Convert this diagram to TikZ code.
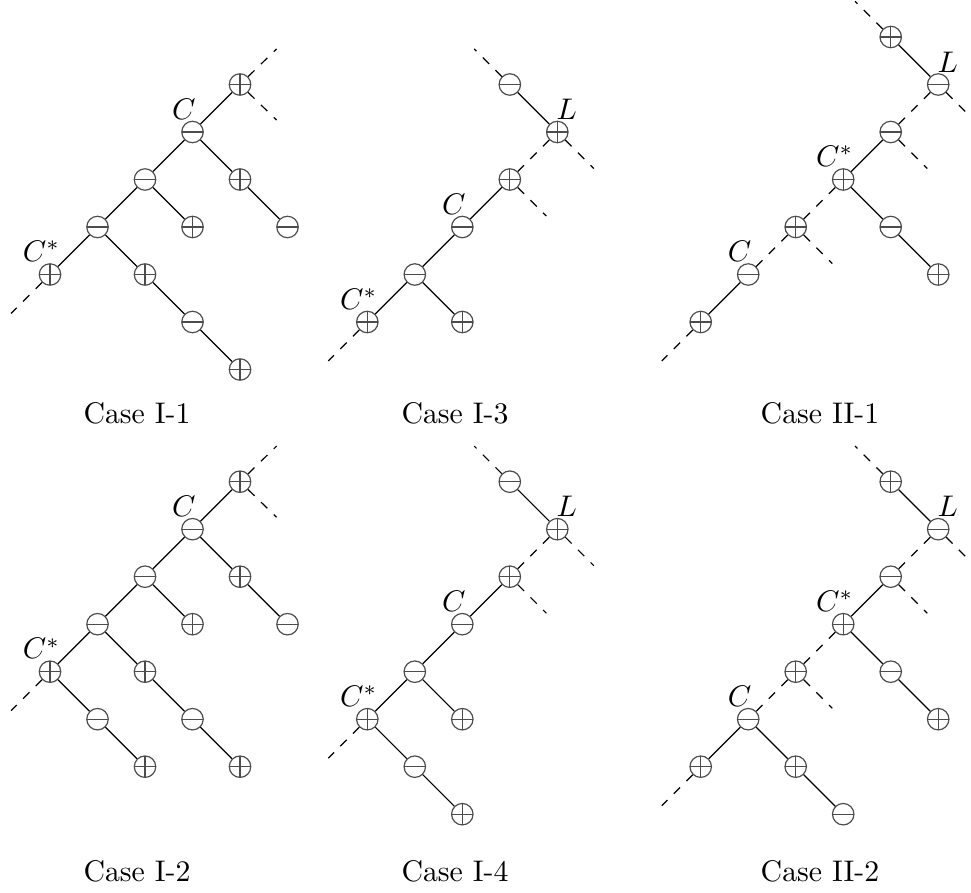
\documentclass[tikz,border=0pt]{standalone}
\usepackage{amsmath, amssymb}
\tikzset{
	x=0.56cm, y=0.56cm,
	plusv/.style ={circle, draw=black!70, minimum size=7.2pt, inner sep=0pt, node contents={},
		path picture={\draw[black!70] (path picture bounding box.north) -- (path picture bounding box.south)
			(path picture bounding box.west) -- (path picture bounding box.east);}},
	minusv/.style ={circle, draw=black!70, minimum size=7.2pt, inner sep=0pt, node contents={},
		path picture={\draw[black!70] (path picture bounding box.west) -- (path picture bounding box.east);}},
	stub/.style={dashed},
	tag/.style = {anchor=base, inner sep=0pt},
	case/.style = {anchor=base}
}
\begin{document}
\begin{tikzpicture}
	\useasboundingbox (0,0) rectangle (20.442,18.779);

	% Case I-1
	\begin{scope}[shift={(1.053,17)}]
		\node (a1) at (4,0) [plusv];
		\node (a2) at (3,-1) [minusv];
		\node (a3) at (2,-2) [minusv];
		\node (a4) at (4,-2) [plusv];
		\node (a5) at (1,-3) [minusv];
		\node (a6) at (3,-3) [plusv];
		\node (a7) at (5,-3) [minusv];
		\node (a8) at (0,-4) [plusv];
		\node (a9) at (2,-4) [plusv];
		\node (a10) at (3,-5) [minusv];
		\node (a11) at (4,-6) [plusv];
		\node[tag] (aC) at (2.82,-0.73) {$C$};
		\node[tag] (aCs) at (-0.18,-3.73) {$C^*$};
		\coordinate (a1u) at (4.77,0.75);
		\coordinate (a1d) at (4.77,-0.75);
		\coordinate (a8d) at (-0.82,-4.82);

		\path (a1) edge (a2) (a2) edge (a3) (a2) edge (a4);
		\path (a3) edge (a5) (a3) edge (a6) (a4) edge (a7);
		\path (a5) edge (a8) (a5) edge (a9) (a9) edge (a10) (a10) edge (a11);
		\path (a1) edge[stub] (a1u) (a1) edge[stub] (a1d) (a8) edge[stub] (a8d);
	\end{scope}

	% Case I-3
	\begin{scope}[shift={(7.733,17)}]
		\node (b1) at (3,0) [minusv];
		\node (b2) at (4,-1) [plusv];
		\node (b3) at (3,-2) [plusv];
		\node (b4) at (2,-3) [minusv];
		\node (b5) at (1,-4) [minusv];
		\node (b6) at (0,-5) [plusv];
		\node (b7) at (2,-5) [plusv];
		\node[tag] (bL) at (4.2,-0.74) {$L$};
		\node[tag] (bC) at (1.82,-2.73) {$C$};
		\node[tag] (bCs) at (-0.18,-4.73) {$C^*$};
		\coordinate (b1u) at (2.25,0.75);
		\coordinate (b2d) at (4.77,-1.77);
		\coordinate (b3d) at (3.77,-2.77);
		\coordinate (b6d) at (-0.82,-5.82);

		\path (b1) edge (b2) (b3) edge (b4) (b4) edge (b5);
		\path (b5) edge (b6) (b5) edge (b7);
		\path (b2) edge[stub] (b3);
		\path (b1) edge[stub] (b1u) (b2) edge[stub] (b2d) (b3) edge[stub] (b3d) (b6) edge[stub] (b6d);
	\end{scope}

	% Case II-1
	\begin{scope}[shift={(14.752,18)}]
		\node (c1) at (4,0) [plusv];
		\node (c2) at (5,-1) [minusv];
		\node (c3) at (4,-2) [minusv];
		\node (c4) at (3,-3) [plusv];
		\node (c5) at (2,-4) [plusv];
		\node (c6) at (4,-4) [minusv];
		\node (c7) at (1,-5) [minusv];
		\node (c8) at (5,-5) [plusv];
		\node (c9) at (0,-6) [plusv];
		\node[tag] (cL) at (5.2,-0.74) {$L$};
		\node[tag] (cCs) at (2.82,-2.73) {$C^*$};
		\node[tag] (cC) at (0.82,-4.73) {$C$};
		\coordinate (c1u) at (3.25,0.75);
		\coordinate (c2d) at (5.77,-1.77);
		\coordinate (c3d) at (4.77,-2.77);
		\coordinate (c5d) at (2.77,-4.77);
		\coordinate (c9d) at (-0.82,-6.82);

		\path (c1) edge (c2) (c3) edge (c4) (c4) edge (c6);
		\path (c6) edge (c8) (c7) edge (c9);
		\path (c2) edge[stub] (c3) (c4) edge[stub] (c5) (c5) edge[stub] (c7);
		\path (c1) edge[stub] (c1u) (c2) edge[stub] (c2d) (c3) edge[stub] (c3d);
		\path (c5) edge[stub] (c5d) (c9) edge[stub] (c9d);
	\end{scope}

	% Case I-2
	\begin{scope}[shift={(1.053,8.638)}]
		\node (d1) at (4,0) [plusv];
		\node (d2) at (3,-1) [minusv];
		\node (d3) at (2,-2) [minusv];
		\node (d4) at (4,-2) [plusv];
		\node (d5) at (1,-3) [minusv];
		\node (d6) at (3,-3) [plusv];
		\node (d7) at (5,-3) [minusv];
		\node (d8) at (0,-4) [plusv];
		\node (d9) at (2,-4) [plusv];
		\node (d10) at (1,-5) [minusv];
		\node (d11) at (3,-5) [minusv];
		\node (d12) at (2,-6) [plusv];
		\node (d13) at (4,-6) [plusv];
		\node[tag] (dC) at (2.82,-0.73) {$C$};
		\node[tag] (dCs) at (-0.18,-3.73) {$C^*$};
		\coordinate (d1u) at (4.77,0.75);
		\coordinate (d1d) at (4.77,-0.75);
		\coordinate (d8d) at (-0.82,-4.82);

		\path (d1) edge (d2) (d2) edge (d3) (d2) edge (d4);
		\path (d3) edge (d5) (d3) edge (d6) (d4) edge (d7);
		\path (d5) edge (d8) (d5) edge (d9) (d8) edge (d10) (d10) edge (d12);
		\path (d9) edge (d11) (d11) edge (d13);
		\path (d1) edge[stub] (d1u) (d1) edge[stub] (d1d) (d8) edge[stub] (d8d);
	\end{scope}

	% Case I-4
	\begin{scope}[shift={(7.733,8.638)}]
		\node (e1) at (3,0) [minusv];
		\node (e2) at (4,-1) [plusv];
		\node (e3) at (3,-2) [plusv];
		\node (e4) at (2,-3) [minusv];
		\node (e5) at (1,-4) [minusv];
		\node (e6) at (0,-5) [plusv];
		\node (e7) at (2,-5) [plusv];
		\node (e8) at (1,-6) [minusv];
		\node (e9) at (2,-7) [plusv];
		\node[tag] (eL) at (4.2,-0.74) {$L$};
		\node[tag] (eC) at (1.82,-2.73) {$C$};
		\node[tag] (eCs) at (-0.18,-4.73) {$C^*$};
		\coordinate (e1u) at (2.25,0.75);
		\coordinate (e2d) at (4.77,-1.77);
		\coordinate (e3d) at (3.77,-2.77);
		\coordinate (e6d) at (-0.82,-5.82);

		\path (e1) edge (e2) (e3) edge (e4) (e4) edge (e5);
		\path (e5) edge (e6) (e5) edge (e7) (e6) edge (e8) (e8) edge (e9);
		\path (e2) edge[stub] (e3);
		\path (e1) edge[stub] (e1u) (e2) edge[stub] (e2d) (e3) edge[stub] (e3d) (e6) edge[stub] (e6d);
	\end{scope}

	% Case II-2
	\begin{scope}[shift={(14.752,8.638)}]
		\node (f1) at (4,0) [plusv];
		\node (f2) at (5,-1) [minusv];
		\node (f3) at (4,-2) [minusv];
		\node (f4) at (3,-3) [plusv];
		\node (f5) at (2,-4) [plusv];
		\node (f6) at (4,-4) [minusv];
		\node (f7) at (1,-5) [minusv];
		\node (f8) at (5,-5) [plusv];
		\node (f9) at (0,-6) [plusv];
		\node (f10) at (2,-6) [plusv];
		\node (f11) at (3,-7) [minusv];
		\node[tag] (fL) at (5.2,-0.74) {$L$};
		\node[tag] (fCs) at (2.82,-2.73) {$C^*$};
		\node[tag] (fC) at (0.82,-4.73) {$C$};
		\coordinate (f1u) at (3.25,0.75);
		\coordinate (f2d) at (5.77,-1.77);
		\coordinate (f3d) at (4.77,-2.77);
		\coordinate (f5d) at (2.77,-4.77);
		\coordinate (f9d) at (-0.82,-6.82);

		\path (f1) edge (f2) (f3) edge (f4) (f4) edge (f6) (f6) edge (f8);
		\path (f7) edge (f9) (f7) edge (f10) (f10) edge (f11);
		\path (f2) edge[stub] (f3) (f4) edge[stub] (f5) (f5) edge[stub] (f7);
		\path (f1) edge[stub] (f1u) (f2) edge[stub] (f2d) (f3) edge[stub] (f3d);
		\path (f5) edge[stub] (f5d) (f9) edge[stub] (f9d);
	\end{scope}

	% captions
	\node[case] (capA) at (2.884,9.867) {Case I-1};
	\node[case] (capB) at (9.579,9.867) {Case I-3};
	\node[case] (capC) at (17.263,9.867) {Case II-1};
	\node[case] (capD) at (2.884,0.217) {Case I-2};
	\node[case] (capE) at (9.579,0.217) {Case I-4};
	\node[case] (capF) at (17.263,0.217) {Case II-2};
\end{tikzpicture}
\end{document}
